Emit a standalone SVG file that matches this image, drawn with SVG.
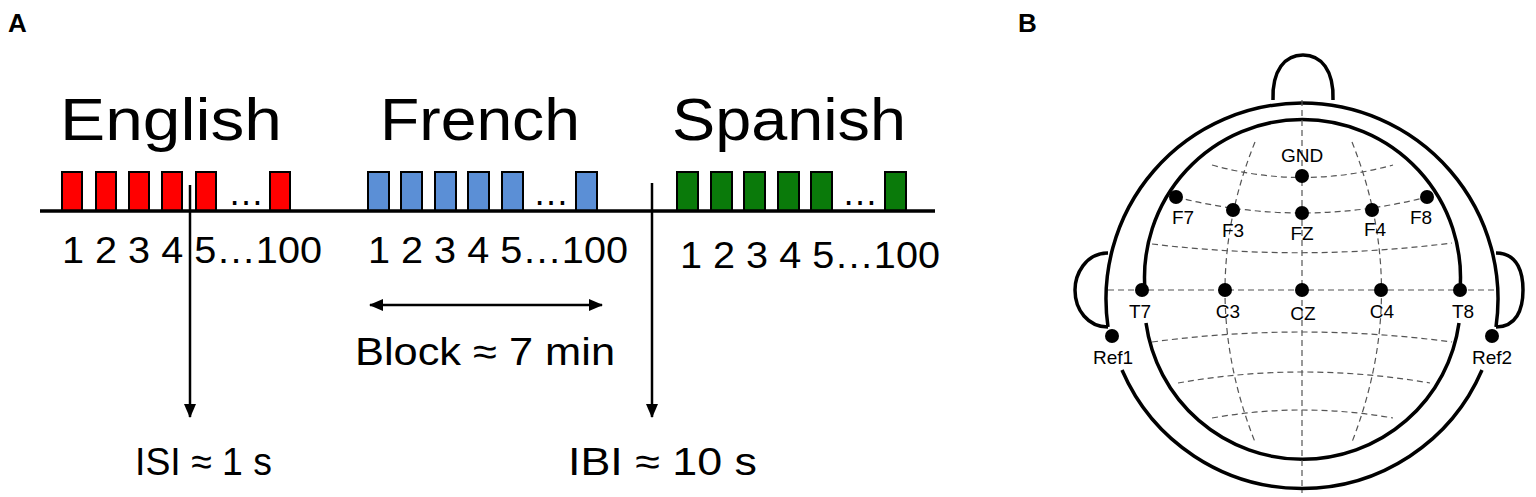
<svg xmlns="http://www.w3.org/2000/svg" width="1536" height="497" viewBox="0 0 1536 497">
<style>
text{font-family:"Liberation Sans",Arial,sans-serif;fill:#000}
.t{font-size:60px}.n{font-size:36px}.b{font-size:39px}.e{font-size:19px;text-anchor:middle}
.r{fill:#f00;stroke:#000;stroke-width:2}.bl{fill:#5b8fd6;stroke:#000;stroke-width:2}.g{fill:#0a7a0a;stroke:#000;stroke-width:2}
.s{fill:none;stroke:#000;stroke-width:3.5}.d{fill:none;stroke:#555;stroke-width:1.2;stroke-dasharray:6 4}
.k{fill:#000}
</style>
<defs><marker id="ah" markerWidth="14" markerHeight="12" refX="13" refY="6" orient="auto-start-reverse" markerUnits="userSpaceOnUse"><path d="M0,0L14,6L0,12z" fill="#000"/></marker></defs>
<text x="8" y="32" style="font-size:26px;font-weight:bold">A</text>
<text x="1018" y="32" style="font-size:26px;font-weight:bold">B</text>
<g id="english"><text class="t" x="60" y="140" textLength="222" lengthAdjust="spacingAndGlyphs">English</text>
<rect class="r" x="62" y="172" width="20" height="39"/><rect class="r" x="96" y="172" width="20" height="39"/><rect class="r" x="129" y="172" width="20" height="39"/><rect class="r" x="162" y="172" width="20" height="39"/><rect class="r" x="196" y="172" width="20" height="39"/><rect class="r" x="270" y="172" width="20" height="39"/>
<text class="n" x="228" y="205">…</text>
<text class="n" x="62" y="263" textLength="260" lengthAdjust="spacingAndGlyphs">1 2 3 4 5…100</text></g>
<g id="french"><text class="t" x="380" y="140" textLength="200" lengthAdjust="spacingAndGlyphs">French</text>
<rect class="bl" x="368" y="172" width="21" height="39"/><rect class="bl" x="401" y="172" width="21" height="39"/><rect class="bl" x="435" y="172" width="21" height="39"/><rect class="bl" x="468" y="172" width="21" height="39"/><rect class="bl" x="502" y="172" width="21" height="39"/><rect class="bl" x="576" y="172" width="21" height="39"/>
<text class="n" x="533" y="205">…</text>
<text class="n" x="368" y="263" textLength="260" lengthAdjust="spacingAndGlyphs">1 2 3 4 5…100</text></g>
<g id="spanish"><text class="t" x="672" y="140" textLength="234" lengthAdjust="spacingAndGlyphs">Spanish</text>
<rect class="g" x="677" y="172" width="21" height="39"/><rect class="g" x="711" y="172" width="21" height="39"/><rect class="g" x="744" y="172" width="21" height="39"/><rect class="g" x="778" y="172" width="21" height="39"/><rect class="g" x="811" y="172" width="21" height="39"/><rect class="g" x="885" y="172" width="21" height="39"/>
<text class="n" x="842" y="205">…</text>
<text class="n" x="680" y="268" textLength="260" lengthAdjust="spacingAndGlyphs">1 2 3 4 5…100</text></g>
<g id="connectors">
<line x1="40" y1="211" x2="935" y2="211" stroke="#000" stroke-width="3.5"/>
<line x1="190" y1="185" x2="190" y2="417" stroke="#000" stroke-width="2.5" marker-end="url(#ah)"/>
<line x1="652" y1="183" x2="652" y2="417" stroke="#000" stroke-width="2.5" marker-end="url(#ah)"/>
<line x1="370" y1="305" x2="602" y2="305" stroke="#000" stroke-width="2.5" marker-start="url(#ah)" marker-end="url(#ah)"/>
</g>
<text class="b" x="355" y="365" textLength="260" lengthAdjust="spacingAndGlyphs">Block ≈ 7 min</text>
<text class="b" x="135" y="475" textLength="137" lengthAdjust="spacingAndGlyphs">ISI ≈ 1 s</text>
<text class="b" x="568" y="475" textLength="189" lengthAdjust="spacingAndGlyphs">IBI ≈ 10 s</text>
<g id="head">
<path class="s" d="M1273,100 C1272,70 1285,55 1303,55 C1321,55 1334,70 1333,100"/>
<path class="s" d="M1108,253 C1085,253 1075,275 1075,290 C1075,310 1088,327 1108,327"/>
<path class="s" d="M1496,253 C1519,253 1523,275 1523,290 C1523,310 1516,327 1496,327"/>
<path class="s" d="M1108,327 A196,196 0 1 1 1496,327"/>
<path class="s" d="M1122,370 A196,196 0 0 0 1482,370"/>
<path class="s" d="M1145,290 A158,158 0 1 1 1460,290"/>
<path class="s" d="M1146,323 A158,158 0 0 0 1459,323"/>
<line class="d" x1="1302" y1="100" x2="1302" y2="493"/>
<line class="d" x1="1108" y1="290" x2="1496" y2="290"/>
<path class="d" d="M1212,165 Q1302,190 1393,165"/>
<path class="d" d="M1176,197 Q1302,229 1427,197"/>
<path class="d" d="M1152,244 Q1302,262 1452,243"/>
<path class="d" d="M1152,342 Q1302,322 1452,342"/>
<path class="d" d="M1178,383 Q1302,361 1430,383"/>
<path class="d" d="M1212,418 Q1302,402 1393,418"/>
<path class="d" d="M1255,142 Q1195,290 1255,442"/>
<path class="d" d="M1352,142 Q1411,290 1352,442"/>
</g>
<g id="electrodes">
<g id="e-gnd"><circle class="k" cx="1302" cy="176" r="7"/><text class="e" x="1302" y="162">GND</text></g>
<g id="e-f7"><circle class="k" cx="1176" cy="197" r="7"/><text class="e" x="1183" y="224">F7</text></g>
<g id="e-f3"><circle class="k" cx="1233" cy="210" r="7"/><text class="e" x="1233" y="237">F3</text></g>
<g id="e-fz"><circle class="k" cx="1302" cy="213" r="7"/><text class="e" x="1302" y="240">FZ</text></g>
<g id="e-f4"><circle class="k" cx="1372" cy="210" r="7"/><text class="e" x="1375" y="236">F4</text></g>
<g id="e-f8"><circle class="k" cx="1427" cy="197" r="7"/><text class="e" x="1421" y="224">F8</text></g>
<g id="e-t7"><circle class="k" cx="1142" cy="290" r="7"/><text class="e" x="1140" y="318">T7</text></g>
<g id="e-c3"><circle class="k" cx="1225" cy="290" r="7"/><text class="e" x="1228" y="318">C3</text></g>
<g id="e-cz"><circle class="k" cx="1302" cy="290" r="7"/><text class="e" x="1303" y="320">CZ</text></g>
<g id="e-c4"><circle class="k" cx="1381" cy="290" r="7"/><text class="e" x="1382" y="318">C4</text></g>
<g id="e-t8"><circle class="k" cx="1460" cy="290" r="7"/><text class="e" x="1463" y="318">T8</text></g>
<g id="e-ref1"><circle class="k" cx="1112" cy="336" r="7"/><text class="e" x="1113" y="364">Ref1</text></g>
<g id="e-ref2"><circle class="k" cx="1492" cy="336" r="7"/><text class="e" x="1492" y="364">Ref2</text></g>
</g>
</svg>
